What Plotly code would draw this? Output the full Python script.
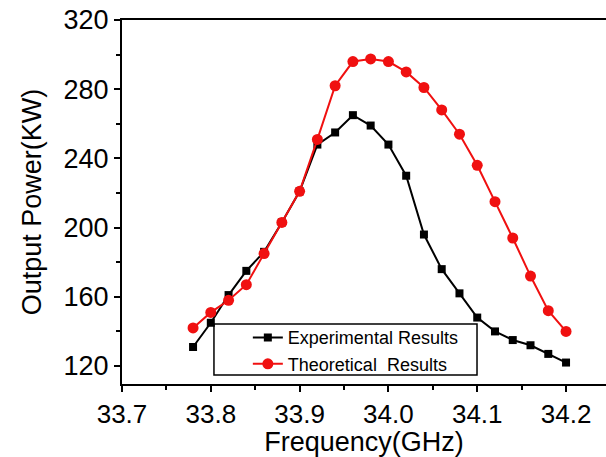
import plotly.graph_objects as go

# frequency points (GHz)
freq = [33.78, 33.80, 33.82, 33.84, 33.86, 33.88, 33.90, 33.92, 33.94, 33.96, 33.98,
        34.00, 34.02, 34.04, 34.06, 34.08, 34.10, 34.12, 34.14, 34.16, 34.18, 34.20]

# output power (KW)
experimental = [131, 145, 161, 175, 186, 203, 221, 248, 255, 265, 259,
                248, 230, 196, 176, 162, 148, 140, 135, 132, 127, 122]
theoretical = [142, 151, 158, 167, 185, 203, 221, 251, 282, 296, 297.5,
               296, 290, 281, 268, 254, 236, 215, 194, 172, 152, 140]

font_family = "Liberation Sans, Arial, sans-serif"

fig = go.Figure()

fig.add_trace(go.Scatter(
    x=freq, y=experimental, name="Experimental Results",
    mode="lines+markers",
    line=dict(color="black", width=2),
    marker=dict(symbol="square", size=8, color="black"),
))

fig.add_trace(go.Scatter(
    x=freq, y=theoretical, name="Theoretical  Results",
    mode="lines+markers",
    line=dict(color="#f01010", width=2),
    marker=dict(symbol="circle", size=11, color="#f01010"),
))

fig.update_layout(
    width=606, height=457,
    margin=dict(l=122, r=0, t=20, b=73),
    paper_bgcolor="white", plot_bgcolor="white",
    font=dict(family=font_family, color="black"),
    showlegend=True,
    legend=dict(
        x=0.26, y=0.178, xanchor="left", yanchor="top",
        borderwidth=0, bgcolor="rgba(0,0,0,0)",
        font=dict(size=18, family=font_family),
        tracegroupgap=0, itemsizing="trace",
    ),
    # legend frame (wider than plotly's own)
    shapes=[dict(type="rect", xref="paper", yref="paper",
                 x0=0.190, x1=0.7335, y0=0.025, y1=0.165,
                 line=dict(color="black", width=1.5), fillcolor="rgba(0,0,0,0)",
                 layer="above")],
)

fig.update_xaxes(
    range=[33.7, 34.245], automargin=False,
    dtick=0.1, tick0=33.7, tickformat=".1f",
    showgrid=False, zeroline=False,
    showline=True, linecolor="black", linewidth=2, mirror=True,
    ticks="outside", ticklen=6, tickwidth=2, tickcolor="black",
    minor=dict(dtick=0.05, ticks="outside", ticklen=4, tickwidth=2, tickcolor="black"),
    tickfont=dict(size=26),
    title=dict(text="Frequency(GHz)", font=dict(size=27), standoff=10),
)

fig.update_yaxes(
    range=[109.6, 320.01], automargin=False,
    dtick=40, tick0=120,
    showgrid=False, zeroline=False,
    showline=True, linecolor="black", linewidth=2,
    ticks="outside", ticklen=6, tickwidth=2, tickcolor="black",
    minor=dict(dtick=20, ticks="outside", ticklen=4, tickwidth=2, tickcolor="black"),
    tickfont=dict(size=27),
    title=dict(text="Output Power(KW)", font=dict(size=27), standoff=14),
)

# drop the default 8px page margin so the figure fills the window
fig.write_html("out.html", config={"displayModeBar": False},
               post_script="document.body.style.margin='0';")
